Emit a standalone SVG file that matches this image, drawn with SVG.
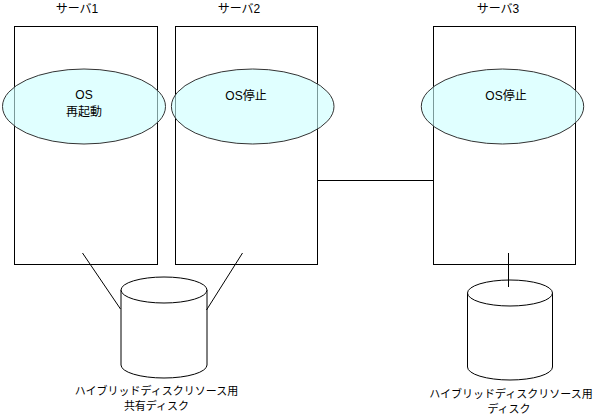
<svg xmlns="http://www.w3.org/2000/svg" width="593" height="418" viewBox="0 0 593 418">
<style>
text{font-family:"Liberation Sans","Noto Sans CJK JP",sans-serif;fill:#000;text-anchor:middle}
.lbl{font-size:12px}
.dl{font-size:11px}
.srv{fill:#fff;stroke:#000;stroke-width:1}
.os{fill:#ccffff;fill-opacity:0.6;stroke:#333;stroke-width:1}
.cyl{fill:#fff;stroke:#000;stroke-width:1}
.conn{stroke:#000;stroke-width:1;fill:none}
</style>
<rect width="593" height="418" fill="#fff"/>
<g id="server1">
<text class="lbl" x="77" y="13">サーバ1</text>
<rect class="srv" x="14.5" y="26.5" width="143" height="238"/>
<ellipse class="os" cx="84" cy="106.5" rx="81.5" ry="37.5"/>
<text class="lbl" x="84" y="99">OS</text>
<text class="lbl" x="84" y="116">再起動</text>
</g>
<g id="server2">
<text class="lbl" x="239" y="13">サーバ2</text>
<rect class="srv" x="175.5" y="26.5" width="142" height="238"/>
<ellipse class="os" cx="252.7" cy="106.5" rx="81.3" ry="37.5"/>
<text class="lbl" x="246" y="100">OS停止</text>
</g>
<g id="server3">
<text class="lbl" x="498" y="13">サーバ3</text>
<rect class="srv" x="433.5" y="26.5" width="142" height="238"/>
<ellipse class="os" cx="502.5" cy="106.5" rx="81.2" ry="37.5"/>
<text class="lbl" x="506" y="100">OS停止</text>
</g>
<g id="disk1">
<path class="cyl" d="M121,290 L121,365 A43,13 0 0 0 207,365 L207,290 A43,13 0 0 0 121,290 Z"/>
<path class="cyl" d="M121,290 A43,13 0 0 0 207,290"/>
<text class="dl" x="156.5" y="395">ハイブリッドディスクリソース用</text>
<text class="dl" x="156.5" y="410">共有ディスク</text>
</g>
<g id="disk2">
<path class="cyl" d="M467.5,293 L467.5,367 A42.5,13 0 0 0 552.5,367 L552.5,293 A42.5,13 0 0 0 467.5,293 Z"/>
<path class="cyl" d="M467.5,293 A42.5,13 0 0 0 552.5,293"/>
<text class="dl" x="511" y="398">ハイブリッドディスクリソース用</text>
<text class="dl" x="509" y="413">ディスク</text>
</g>
<g id="connectors">
<line class="conn" x1="317.5" y1="180.5" x2="433.5" y2="180.5"/>
<line class="conn" x1="82.5" y1="253" x2="120.5" y2="309"/>
<line class="conn" x1="242.5" y1="253" x2="206.5" y2="310"/>
<line class="conn" x1="508.5" y1="253" x2="508.5" y2="287"/>
</g>
</svg>
